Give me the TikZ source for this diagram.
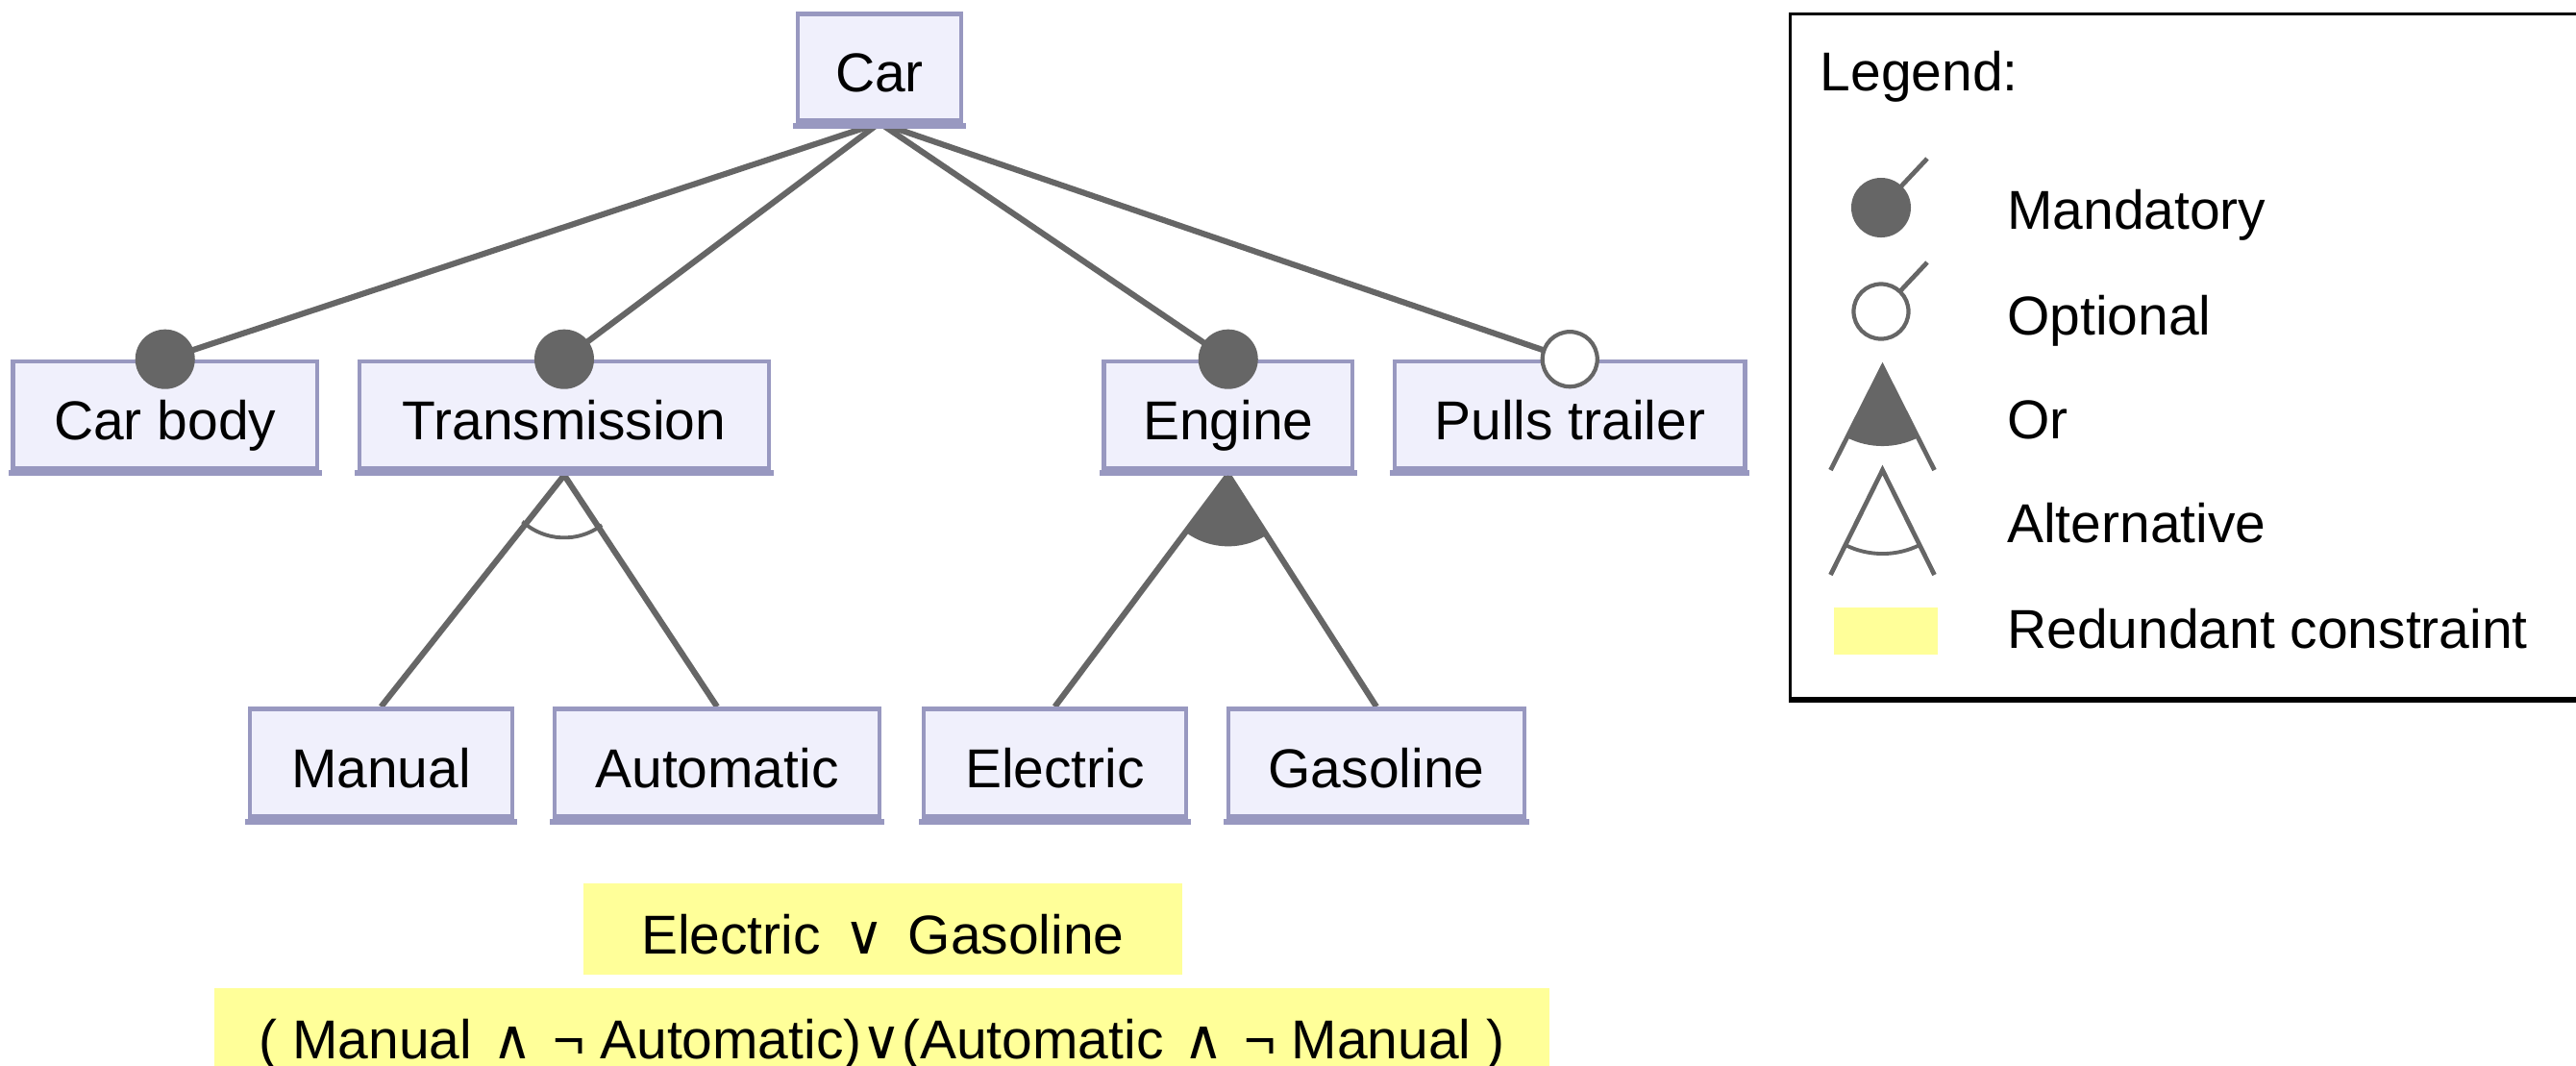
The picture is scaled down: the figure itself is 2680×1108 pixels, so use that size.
\documentclass[tikz,border=0pt]{standalone}
\usepackage{fontspec}
\setmainfont{Liberation Sans}
\newfontfamily\opfont{DejaVu Sans}
\usetikzlibrary{calc}
\pgfdeclarelayer{background}
\pgfsetlayers{background,main}

\definecolor{featfill}{HTML}{F0F0FC}
\definecolor{featline}{HTML}{9898C0}
\definecolor{linkgray}{HTML}{666666}
\definecolor{hilite}{HTML}{FFFF99}

\newcommand{\opor}{{\opfont ∨}}
\newcommand{\opand}{{\opfont ∧}}

\begin{document}
\begin{tikzpicture}[x=0.01cm, y=0.01cm,
  txt/.style={font=\fontsize{16.2pt}{19pt}\selectfont},
  feat/.style={txt, draw=featline, fill=featfill, line width=1.3pt,
    inner sep=0pt, text height=0.51cm, text depth=0pt},
  cons/.style={txt, fill=hilite, inner sep=0pt, text height=0.51cm, text depth=0pt},
  link/.style={draw=linkgray, line width=1.75pt},
  lglink/.style={draw=linkgray, line width=1.35pt},
  arcline/.style={draw=linkgray, line width=1.1pt},
  mand/.style={circle, fill=linkgray, minimum size=0.62cm, inner sep=0pt},
  opt/.style={circle, draw=linkgray, fill=white, line width=1.2pt, minimum size=0.57cm, inner sep=0pt},
  legtext/.style={txt, anchor=base west, inner sep=0pt}
]
\useasboundingbox (0,0) rectangle (2680,-1108);
\clip (0,0) rectangle (2680,-1108);

% feature boxes
\node[feat, minimum width=1.70cm, minimum height=1.11cm] (car) at (915,-70) {Car};
\node[feat, minimum width=3.165cm, minimum height=1.11cm] (body) at (171.75,-431.5) {Car body};
\node[feat, minimum width=4.26cm, minimum height=1.11cm] (trans) at (587,-431.5) {Transmission};
\node[feat, minimum width=2.585cm, minimum height=1.11cm] (engine) at (1277.75,-431.5) {Engine};
\node[feat, minimum width=3.645cm, minimum height=1.11cm] (trailer) at (1633.25,-431.5) {Pulls trailer};
\node[feat, minimum width=2.73cm, minimum height=1.12cm] (manual) at (396.5,-793.5) {Manual};
\node[feat, minimum width=3.38cm, minimum height=1.12cm] (auto) at (746,-793.5) {Automatic};
\node[feat, minimum width=2.73cm, minimum height=1.12cm] (electric) at (1097.5,-793.5) {Electric};
\node[feat, minimum width=3.08cm, minimum height=1.12cm] (gasoline) at (1432,-793.5) {Gasoline};

% thicker lower edge of every feature box
\foreach \n in {car,body,trans,engine,trailer,manual,auto,electric,gasoline}
  \fill[featline] ([xshift=-0.023cm]\n.south west) rectangle ([xshift=0.023cm,yshift=-0.06cm]\n.south east);

% group apexes
\coordinate (tapex) at ($(trans.south)+(0,-5)$);
\coordinate (eapex) at ($(engine.south)+(0,-5)$);

% connectors
\begin{pgfonlayer}{background}
  \draw[link] (car.south) -- (body.north);
  \draw[link] (car.south) -- (trans.north);
  \draw[link] (car.south) -- (engine.north);
  \draw[link] (car.south) -- (trailer.north);
  \draw[link] (tapex) -- (manual.north);
  \draw[link] (tapex) -- (auto.north);
  \draw[link] (eapex) -- (electric.north);
  \draw[link] (eapex) -- (gasoline.north);
\end{pgfonlayer}

% alternative group arc
\draw[arcline] (tapex) ++(228:0.65cm) arc[start angle=228, end angle=307, radius=0.65cm];
% or group sector
\fill[linkgray] (eapex) -- ++(233.7:0.74cm) arc[start angle=233.7, end angle=302.1, radius=0.74cm] -- cycle;

% mandatory / optional markers
\node[mand] (mbody) at (body.north) {};
\node[mand] (mtrans) at (trans.north) {};
\node[mand] (mengine) at (engine.north) {};
\node[opt] (otrailer) at (trailer.north) {};

% constraints
\node[cons, minimum width=6.226cm, minimum height=0.95cm] (c1) at (918.3,-966.5)
  {Electric\hspace{7pt}\opor\hspace{7pt}Gasoline};
\node[cons, minimum width=13.89cm, minimum height=0.95cm] (c2) at (917.5,-1075.5)
  {( Manual\hspace{6pt}\opand\hspace{6pt}¬ Automatic)\opor(Automatic\hspace{6pt}\opand\hspace{6pt}¬ Manual )};

% legend frame
\draw[black, line width=0.85pt] (2700,-14) -- (1862.5,-14) -- (1862.5,-731);
\draw[black, line width=1.7pt] (1861,-728) -- (2700,-728);

\node[legtext] (lgtitle) at (1893,-94) {Legend:};

% legend: mandatory
\coordinate (lmt) at (2005,-165);
\node[mand] (lm) at (1957,-216) {};
\begin{pgfonlayer}{background}
  \draw[lglink] (lm.center) -- (lmt);
\end{pgfonlayer}
\node[legtext] (lmtext) at (2087.5,-238.7) {Mandatory};

% legend: optional
\coordinate (lot) at (2005,-273);
\begin{pgfonlayer}{background}
  \draw[lglink] (1957,-324) -- (lot);
\end{pgfonlayer}
\node[opt] (lo) at (1957,-324) {};
\node[legtext] (lotext) at (2087.5,-348) {Optional};

% legend: or
\coordinate (lor) at (1958.5,-382);
\coordinate (lorl) at (1904.5,-489);
\coordinate (lorr) at (2012.5,-489);
\draw[lglink] (lorl) -- (lor) -- (lorr);
\fill[linkgray] (lor) -- ++(243.2:0.82cm) arc[start angle=243.2, end angle=296.8, radius=0.82cm] -- cycle;
\node[legtext] (lortext) at (2087.5,-456) {Or};

% legend: alternative
\coordinate (lalt) at (1958.5,-489);
\coordinate (laltl) at (1904.5,-598);
\coordinate (laltr) at (2012.5,-598);
\draw[lglink] (laltl) -- (lalt) -- (laltr);
\draw[arcline] (lalt) ++(243.2:0.87cm) arc[start angle=243.2, end angle=296.8, radius=0.87cm];
\node[legtext] (lalttext) at (2087.5,-564.5) {Alternative};

% legend: redundant constraint
\fill[hilite] (1908,-631.5) rectangle (2016,-680.6);
\node[legtext] (lrtext) at (2087.5,-674) {Redundant constraint};
\end{tikzpicture}
\end{document}
